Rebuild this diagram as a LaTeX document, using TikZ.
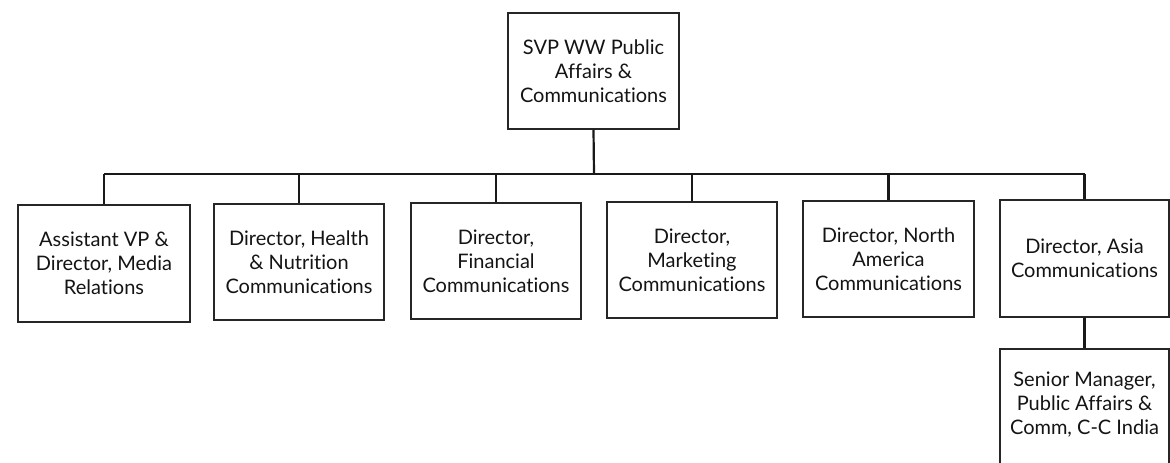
\documentclass[tikz,border=0pt]{standalone}
\usepackage{fontspec}
\setmainfont{Lato}[Ligatures=NoCommon]
\begin{document}
\begin{tikzpicture}[x=1pt,y=-1pt,
  box/.style={draw=black!85, line width=1.5pt, fill=white, inner sep=0pt,
    minimum width=170pt, minimum height=116pt, align=center,
    font=\fontsize{20}{24}\selectfont, text=black!92},
  txt/.style={align=center, font=\fontsize{20}{24}\selectfont, text=black!92, inner sep=0pt},
  conn/.style={draw=black!90, line width=2.2pt}]
\useasboundingbox (0,0) rectangle (1170,463);
\clip (0,0) rectangle (1170,463);
\fill[white] (0,0) rectangle (1170,463);
\node[box, minimum width=171pt] (top) at (593.5,71) {SVP WW Public\\Affairs \&\\Communications};
\node[box, minimum width=172pt, minimum height=117pt] (b1) at (104,263.5) {Assistant VP \&\\Director, Media\\Relations};
\node[box] (b2) at (299,262) {Director, Health\\\& Nutrition\\Communications};
\node[box] (b3) at (496,261) {Director,\\Financial\\Communications};
\node[box] (b4) at (692,260) {Director,\\Marketing\\Communications};
\node[box, minimum width=171pt] (b5) at (888.5,259) {Director, North\\America\\Communications};
\node[box, minimum width=169pt, minimum height=117pt] (b6) at (1084.5,258.5) {Director, Asia\\Communications};
\node[box, minimum width=169pt, minimum height=130pt, anchor=north,
  label={[txt, yshift=9pt]center:{Senior Manager,\\Public Affairs \&\\Comm, C-C India}}] (b7) at (1084.5,348) {};
\coordinate (bar) at (594,174);
\draw[conn] (top.south) -- (bar);
\draw[conn] (b1.north |- bar) -- (b6.north |- bar);
\foreach \n in {b1,b2,b3,b4,b5,b6} \draw[conn] (\n.north |- bar) -- (\n.north);
\draw[conn] (b6.south) -- (b7.north);
\end{tikzpicture}
\end{document}
